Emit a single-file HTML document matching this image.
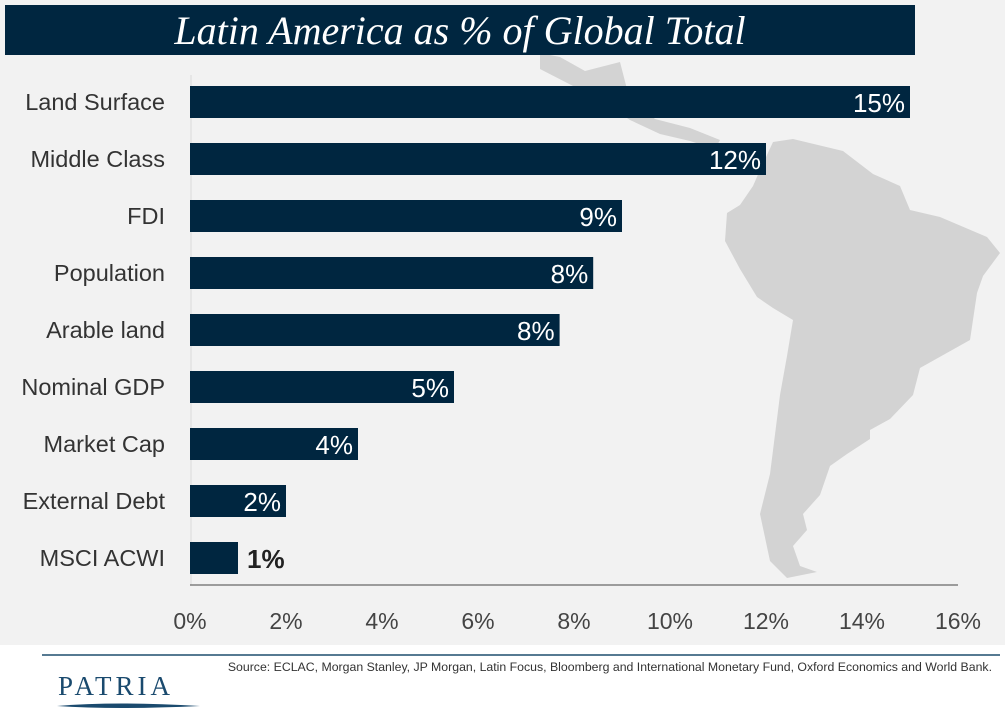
<!DOCTYPE html>
<html><head><meta charset="utf-8"><style>
body{margin:0;width:1005px;height:716px;background:#fff;overflow:hidden;font-family:"Liberation Sans",sans-serif}
</style></head><body>
<svg width="1005" height="716" id="svg">
<rect x="0" y="0" width="1005" height="645" fill="#f2f2f2"/>
<g fill="#d3d3d3">
<polygon points="540,53 560,57 585,71 620,62 628,93 655,119 690,128 720,140 715,149 690,141 660,134 630,120 600,100 575,87 540,69"/>
<polygon points="773,142 793,139 843,151 873,174 900,186 910,210 940,217 987,237 1000,253 983,276 977,293 970,340 920,368 913,395 890,419 870,430 870,439 847,454 830,466 820,495 803,514 807,530 793,546 800,566 817,572 787,578 770,561 760,514 770,474 780,395 787,356 793,320 773,308 757,297 740,269 725,241 727,213 740,205 753,186 760,170"/>
</g>
<rect x="5" y="5" width="910" height="50" fill="#002640"/>
<text x="460" y="44" text-anchor="middle" fill="#fff" font-family="Liberation Serif, serif" font-style="italic" font-size="40">Latin America as % of Global Total</text>
<line x1="191" y1="75" x2="191" y2="585" stroke="#d9d9d9"/>
<line x1="190" y1="585" x2="958" y2="585" stroke="#7f7f7f" stroke-width="1.5"/>
<g id="bars"></g><g id="ticks"></g>
<line x1="42" y1="655" x2="1000" y2="655" stroke="#1f4e6e" stroke-width="1.5"/>
<text x="992" y="671" text-anchor="end" font-size="12.3" fill="#333">Source: ECLAC, Morgan Stanley, JP Morgan, Latin Focus, Bloomberg and International Monetary Fund, Oxford Economics and World Bank.</text>
<text x="116" y="695" text-anchor="middle" font-family="Liberation Serif, serif" font-size="27" fill="#1a4a6e" letter-spacing="4">PATRIA</text>
<path d="M57,706 Q116,701 200,706 Q116,710 57,706Z" fill="#1a4a6e"/>
</svg>
<script>
const categories=["Land Surface","Middle Class","FDI","Population","Arable land","Nominal GDP","Market Cap","External Debt","MSCI ACWI"];
const values=[15,12,9,8.4,7.7,5.5,3.5,2.0,1.0];
const labels=["15%","12%","9%","8%","8%","5%","4%","2%","1%"];
const ticks=[0,2,4,6,8,10,12,14,16];
const NS="http://www.w3.org/2000/svg";
const x=v=>190+v*48;
const y=i=>86+i*57;
function mk(t,a){const e=document.createElementNS(NS,t);for(const k in a)e.setAttribute(k,a[k]);return e;}
const bars=document.getElementById('bars');
categories.forEach((c,i)=>{
 const r=mk('rect',{x:190,y:y(i),width:x(values[i])-190,height:32,fill:'#002640'});
 
 
 bars.appendChild(r);
 const t=mk('text',{x:165,y:y(i)+24,'text-anchor':'end','font-size':'23.5',fill:'#333'});
 t.textContent=c;
 
 
 bars.appendChild(t);
 const inside=values[i]>=1.5;
 const v=mk('text',{x:inside?x(values[i])-5:x(values[i])+9,y:y(i)+26,'text-anchor':inside?'end':'start','font-size':'26',fill:inside?'#fff':'#222','font-weight':inside?'normal':'bold'});
 v.textContent=labels[i];
 
 
 bars.appendChild(v);
});
const tk=document.getElementById('ticks');
ticks.forEach(t=>{
 const e=mk('text',{x:x(t),y:629,'text-anchor':'middle','font-size':'23',fill:'#444'});
 e.textContent=t+'%';
 
 
 tk.appendChild(e);
});
</script>
</body></html>
